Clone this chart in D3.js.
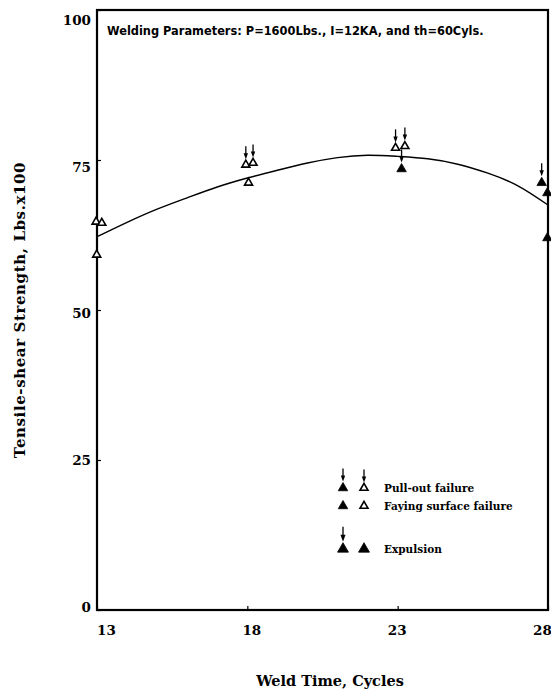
<!DOCTYPE html>
<html><head><meta charset="utf-8">
<script src="https://cdn.jsdelivr.net/npm/d3@7"></script>
<style>body{margin:0;background:#fff}svg{display:block}</style>
</head><body>
<svg id="c" width="551" height="692"></svg>
<script>
// ---- data ----
const xTicks = [13, 18, 23, 28];
const yTicks = [0, 25, 50, 75, 100];
const ptCycles   = [12.97, 13.16, 12.99, 17.95, 18.19, 18.04, 22.93, 23.24, 23.13, 27.79, 27.98, 27.98];
const ptStrength = [64.7, 64.5, 59.2, 74.2, 74.5, 71.2, 77.0, 77.3, 73.5, 71.2, 69.5, 62.0];
const ptExpulsion = [0, 0, 0, 0, 0, 0, 0, 0, 1, 1, 1, 1];
const ptPullout   = [0, 0, 0, 1, 1, 0, 1, 1, 1, 1, 0, 0];
const fitCycles   = [13, 14, 15, 16, 17, 18, 19, 20, 21, 22, 23, 24, 25, 26, 27, 28];
const fitStrength = [62.2, 64.6, 66.8, 68.7, 70.5, 72.0, 73.3, 74.5, 75.4, 75.8, 75.6, 75.2, 74.3, 72.8, 70.7, 67.5];
const titleText = "Welding Parameters: P=1600Lbs., I=12KA, and th=60Cyls.";
const xTitle = "Weld Time, Cycles";
const yTitle = "Tensile-shear Strength, Lbs.x100";
const legendLabels = ["Pull-out failure", "Faying surface failure", "Expulsion"];

// ---- layout ----
const L = 97, R = 548, T = 10, B = 610;
const svg = d3.select("#c");
const x = d3.scaleLinear().domain([13, 28]).range([L, R]);
const y = d3.scaleLinear().domain([0, 100]).range([B, T]);
const xLab = d3.scaleLinear().domain([13, 28]).range([106, 542]);
const yLab = d3.scaleLinear().domain([0, 100]).range([607, 20]);
const serif = "'DejaVu Serif', serif";

// ticks (inward)
const yAx = svg.append("g").attr("transform", `translate(${L},0)`)
  .call(d3.axisLeft(y).tickValues(yTicks).tickSize(-4).tickFormat(""));
yAx.select(".domain").remove();
yAx.selectAll("line").attr("stroke", "#000").attr("stroke-width", 1.2);
const xAx = svg.append("g").attr("transform", `translate(0,${B})`)
  .call(d3.axisBottom(x).tickValues(xTicks).tickSize(-4).tickFormat(""));
xAx.select(".domain").remove();
xAx.selectAll("line").attr("stroke", "#000").attr("stroke-width", 1.2);

// tick labels
const yl = svg.append("g").attr("transform", `translate(${L - 6},0)`)
  .call(d3.axisLeft(yLab).tickValues(yTicks).tickSize(0).tickPadding(0).tickFormat(d3.format("d")));
yl.select(".domain").remove();
yl.selectAll("text").attr("font-family", serif).attr("font-weight", "bold").attr("font-size", 13.5).attr("fill", "#000");
const xl = svg.append("g").attr("transform", `translate(0,${B + 15})`)
  .call(d3.axisBottom(xLab).tickValues(xTicks).tickSize(0).tickPadding(0).tickFormat(d3.format("d")));
xl.select(".domain").remove();
xl.selectAll("text").attr("font-family", serif).attr("font-weight", "bold").attr("font-size", 13.5).attr("fill", "#000");

// frame
svg.append("rect").attr("x", L).attr("y", T).attr("width", R - L).attr("height", B - T)
  .attr("fill", "none").attr("stroke", "#000").attr("stroke-width", 2.2);

// title inside
svg.append("text").attr("x", 107).attr("y", 35).text(titleText)
  .attr("font-family", "'DejaVu Sans', sans-serif").attr("font-weight", "bold").attr("font-size", 11.4).attr("fill", "#000");

// axis titles
svg.append("text").attr("x", 330).attr("y", 686).attr("text-anchor", "middle").text(xTitle)
  .attr("font-family", serif).attr("font-weight", "bold").attr("font-size", 14.5);
svg.append("text").attr("transform", "translate(25,310) rotate(-90)").attr("text-anchor", "middle").text(yTitle)
  .attr("font-family", serif).attr("font-weight", "bold").attr("font-size", 15).attr("letter-spacing", 0.6);

// fitted curve
const fit = fitCycles.map((c, i) => [c, fitStrength[i]]);
svg.append("path").datum(fit)
  .attr("d", d3.line().x(d => x(d[0])).y(d => y(d[1])).curve(d3.curveNatural))
  .attr("fill", "none").attr("stroke", "#000").attr("stroke-width", 1.4);

// markers
function marker(g, filled, arrow, scale) {
  const side = (filled ? 9.5 : 8) * scale;
  const area = Math.sqrt(3) / 4 * side * side;
  g.append("path").attr("d", d3.symbol(d3.symbolTriangle, area)())
    .attr("fill", filled ? "#000" : "#fff").attr("stroke", "#000").attr("stroke-width", filled ? 0.8 : 1.6);
  if (arrow) {
    const top = -side * 0.577 - 1;
    g.append("line").attr("x1", 0).attr("x2", 0).attr("y1", top - 13 * scale).attr("y2", top - 3)
      .attr("stroke", "#000").attr("stroke-width", 1.3);
    g.append("path").attr("d", `M${-2.2 * scale},${top - 6 * scale} L${2.2 * scale},${top - 6 * scale} L0,${top} Z`)
      .attr("fill", "#000");
  }
}
const pts = ptCycles.map((c, i) => ({c, s: ptStrength[i], e: ptExpulsion[i], p: ptPullout[i]}));
const mg = svg.append("g");
pts.forEach(d => {
  const g = mg.append("g").attr("transform", `translate(${x(d.c)},${y(d.s)})`);
  marker(g, d.e === 1, d.p === 1, 1);
});

// legend
const legRows = [
  {y: 488, syms: [[1, 1], [0, 1]], scale: 1},
  {y: 506, syms: [[1, 0], [0, 0]], scale: 1},
  {y: 549, syms: [[1, 1], [1, 0]], scale: 1.15}
];
legRows.forEach((r, i) => {
  r.syms.forEach((s, j) => {
    const g = svg.append("g").attr("transform", `translate(${343 + j * 21},${r.y})`);
    marker(g, s[0] === 1, s[1] === 1, r.scale);
  });
  svg.append("text").attr("x", 384).attr("y", r.y + 4).text(legendLabels[i])
    .attr("font-family", serif).attr("font-weight", "bold").attr("font-size", 10.5);
});
</script>
</body></html>
